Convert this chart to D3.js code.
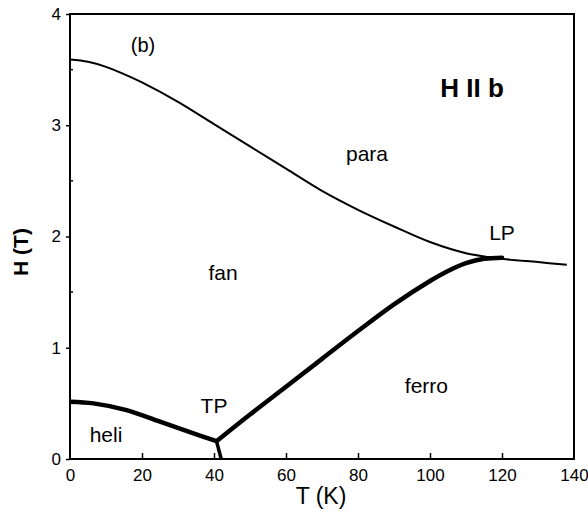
<!DOCTYPE html>
<html>
<head>
<meta charset="utf-8">
<script src="https://cdn.jsdelivr.net/npm/d3@7"></script>
<style>
  html, body { margin: 0; padding: 0; background: #fff; }
  svg { display: block; }
  text { font-family: "Liberation Sans", Arial, sans-serif; fill: #000; }
</style>
</head>
<body>
<svg id="chart" width="588" height="517"></svg>
<script>
// Phase boundaries of the magnetic phase diagram, H parallel to b
const paraT = [0, 5, 10, 15, 20, 30, 40, 50, 60, 70, 80, 90, 100, 110, 120, 130, 138];
const paraH = [3.59, 3.57, 3.525, 3.46, 3.385, 3.21, 3.01, 2.81, 2.61, 2.41, 2.24, 2.09, 1.95, 1.85, 1.80, 1.77, 1.745];

const heliT = [0, 6.5, 15.7, 25, 34.3, 40.7];
const heliH = [0.515, 0.50, 0.44, 0.335, 0.23, 0.16];

const ferroT = [40.7, 50, 60, 70, 80, 90, 100, 105, 110, 115, 120];
const ferroH = [0.16, 0.40, 0.65, 0.90, 1.15, 1.39, 1.60, 1.69, 1.76, 1.80, 1.81];

const tpT = [40.7, 42.0];
const tpH = [0.16, 0];

const xTicks = [0, 20, 40, 60, 80, 100, 120, 140];
const yTicks = [0, 1, 2, 3, 4];
const yMinor = [0.5, 1.5, 2.5, 3.5];

const phaseLabels = ["para", "fan", "ferro", "heli", "TP", "LP"];
const phaseT = [82.5, 42.5, 99, 10, 40, 120];
const phaseHl = [2.68, 1.61, 0.59, 0.15, 0.415, 1.97];

const svg = d3.select("#chart");
const x = d3.scaleLinear().domain([0, 140]).range([70, 574]);
const y = d3.scaleLinear().domain([0, 4]).range([459, 14]);

// frame
svg.append("rect")
  .attr("x", x(0)).attr("y", y(4))
  .attr("width", x(140) - x(0)).attr("height", y(0) - y(4))
  .attr("fill", "none").attr("stroke", "#000").attr("stroke-width", 2);

// x axis: inward ticks
const xAxis = d3.axisBottom(x).tickValues(xTicks).tickFormat(d3.format("d"))
  .tickSizeInner(-6).tickSizeOuter(0).tickPadding(10);
const gx = svg.append("g").attr("transform", `translate(0,${y(0)})`).call(xAxis);
gx.select(".domain").remove();
gx.selectAll("line").attr("stroke-width", 1.5);
gx.selectAll("text").attr("font-size", 17).attr("dy", "0.71em");
gx.selectAll(".tick").filter(d => d === 0 || d === 140).select("line").remove();

// y axis: outward major ticks, inward minor ticks
const yAxis = d3.axisLeft(y).tickValues(yTicks).tickFormat(d3.format("d"))
  .tickSizeInner(4).tickSizeOuter(0).tickPadding(5);
const gy = svg.append("g").attr("transform", `translate(${x(0)},0)`).call(yAxis);
gy.select(".domain").remove();
gy.selectAll("line").attr("stroke-width", 1.5);
gy.selectAll("text").attr("font-size", 17);

svg.append("g").selectAll("line").data(yMinor).join("line")
  .attr("x1", x(0)).attr("x2", x(0) + 3)
  .attr("y1", d => y(d)).attr("y2", d => y(d))
  .attr("stroke", "#000").attr("stroke-width", 1.5);

// boundaries
const line = d3.line().x(d => x(d[0])).y(d => y(d[1]));
const smooth = d3.line().curve(d3.curveCatmullRom.alpha(0.5)).x(d => x(d[0])).y(d => y(d[1]));

svg.append("path")
  .attr("d", smooth(d3.zip(paraT, paraH)))
  .attr("fill", "none").attr("stroke", "#000").attr("stroke-width", 2);

svg.append("path")
  .attr("d", smooth(d3.zip(heliT, heliH)))
  .attr("fill", "none").attr("stroke", "#000").attr("stroke-width", 4.5)
  .attr("stroke-linejoin", "round");

svg.append("path")
  .attr("d", smooth(d3.zip(ferroT, ferroH)))
  .attr("fill", "none").attr("stroke", "#000").attr("stroke-width", 4.5)
  .attr("stroke-linecap", "round");

svg.append("path")
  .attr("d", line(d3.zip(tpT, tpH)))
  .attr("fill", "none").attr("stroke", "#000").attr("stroke-width", 3.5);

// phase labels
svg.append("g").selectAll("text").data(phaseLabels).join("text")
  .attr("x", (d, i) => x(phaseT[i]))
  .attr("y", (d, i) => y(phaseHl[i]))
  .attr("text-anchor", "middle")
  .attr("font-size", 21)
  .text(d => d);

svg.append("text")
  .attr("x", 143).attr("y", 52)
  .attr("text-anchor", "middle").attr("font-size", 20)
  .text("(b)");

svg.append("text")
  .attr("x", 472).attr("y", 97)
  .attr("text-anchor", "middle").attr("font-size", 26).attr("font-weight", "bold")
  .text("H II b");

// axis titles
svg.append("text")
  .attr("x", 321).attr("y", 504)
  .attr("text-anchor", "middle").attr("font-size", 23)
  .text("T (K)");

svg.append("text")
  .attr("transform", "translate(28,252) rotate(-90)")
  .attr("text-anchor", "middle").attr("font-size", 21).attr("font-weight", "bold")
  .text("H (T)");
</script>
</body>
</html>
